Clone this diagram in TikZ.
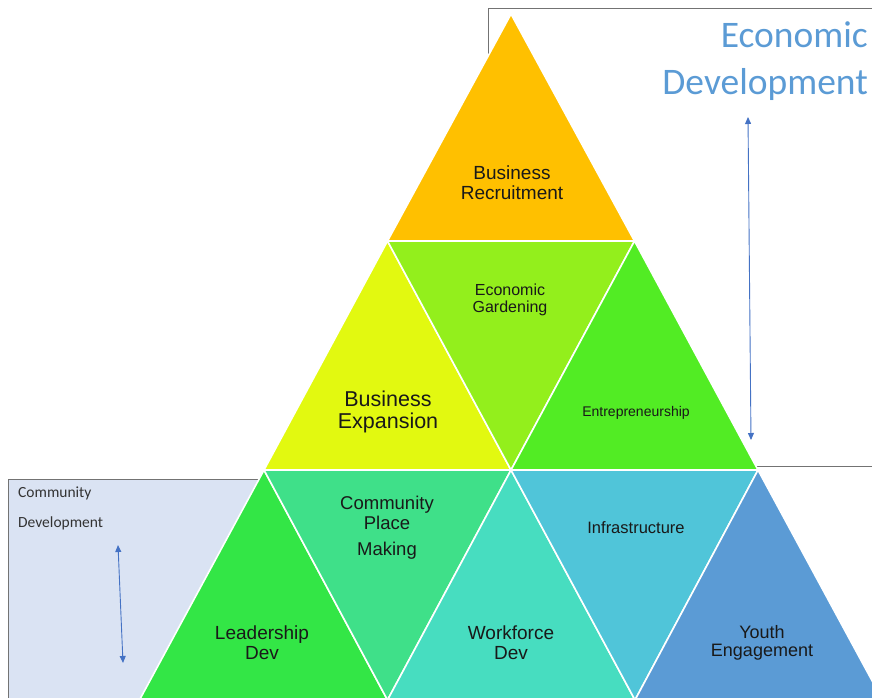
\documentclass[tikz,border=0pt]{standalone}
\usepackage{fontspec}
\setmainfont{Liberation Sans}
\newfontfamily\calibri{Carlito}
\usepackage{tikz}
\usetikzlibrary{arrows.meta}

\definecolor{recruitcol}{HTML}{FFC000}
\definecolor{expandcol}{HTML}{E2F910}
\definecolor{gardencol}{HTML}{93EF1C}
\definecolor{entrecol}{HTML}{52EC24}
\definecolor{leadcol}{HTML}{33E646}
\definecolor{placecol}{HTML}{3FE089}
\definecolor{workcol}{HTML}{47DDC0}
\definecolor{infracol}{HTML}{50C5D9}
\definecolor{youthcol}{HTML}{5B9BD5}
\definecolor{cdfill}{HTML}{DAE3F3}
\definecolor{edblue}{HTML}{5B9BD5}
\definecolor{arrowblue}{HTML}{4472C4}

\begin{document}
\begin{tikzpicture}[x=1pt,y=-1pt,
		tri/.style={draw=white,line width=1.6pt,line join=round},
		lbl/.style={align=center,text=black!90,inner sep=0pt},
		frame/.style={draw=black!55,line width=0.9pt},
		span/.style={draw=arrowblue,line width=0.9pt,
			{Triangle[length=7pt,width=6pt]}-{Triangle[length=7pt,width=6pt]}},
		sidelbl/.style={anchor=base west,inner sep=0pt,text=black!80,
			font=\calibri\fontsize{15.5}{16}\selectfont},
		toplbl/.style={anchor=base east,inner sep=0pt,text=edblue,
			font=\calibri\fontsize{37.5}{40}\selectfont}]
		\clip (0,0) rectangle (872,698);
		% frames behind the pyramid
		\draw[frame] (488,8) rectangle (900,466);
		\draw[frame,fill=cdfill] (8,479) rectangle (300,720);
		% lattice points
		\coordinate (a0) at (511,14);
		\coordinate (b0) at (387.5,241);
		\coordinate (b1) at (634.5,241);
		\coordinate (c0) at (264,470);
		\coordinate (c1) at (511,470);
		\coordinate (c2) at (758,470);
		\coordinate (d0) at (139.5,700);
		\coordinate (d1) at (387.5,700);
		\coordinate (d2) at (635,700);
		\coordinate (d3) at (882.5,700);
		% triangles
		\filldraw[tri,fill=recruitcol] (a0) -- (b0) -- (b1) -- cycle;
		\filldraw[tri,fill=expandcol] (b0) -- (c0) -- (c1) -- cycle;
		\filldraw[tri,fill=gardencol] (b0) -- (b1) -- (c1) -- cycle;
		\filldraw[tri,fill=entrecol] (b1) -- (c1) -- (c2) -- cycle;
		\filldraw[tri,fill=leadcol] (c0) -- (d0) -- (d1) -- cycle;
		\filldraw[tri,fill=placecol] (c0) -- (c1) -- (d1) -- cycle;
		\filldraw[tri,fill=workcol] (c1) -- (d1) -- (d2) -- cycle;
		\filldraw[tri,fill=infracol] (c1) -- (c2) -- (d2) -- cycle;
		\filldraw[tri,fill=youthcol] (c2) -- (d2) -- (d3) -- cycle;
		% labels
		\node[lbl,font=\fontsize{19}{20}\selectfont] (recruit) at (512,183) {Business\\Recruitment};
		\node[lbl,font=\fontsize{16}{17}\selectfont] (garden) at (510,300) {Economic\\Gardening};
		\node[lbl,font=\fontsize{21.5}{22}\selectfont] (expand) at (388,412) {Business\\Expansion};
		\node[lbl,font=\fontsize{14}{16}\selectfont] (entre) at (636,413) {Entrepreneurship};
		\node[lbl,font=\fontsize{18.5}{20}\selectfont] (place) at (387,528) {Community\\Place\\[6pt]Making};
		\node[lbl,font=\fontsize{16.5}{18}\selectfont] (infra) at (636,528) {Infrastructure};
		\node[lbl,font=\fontsize{19}{20}\selectfont] (lead) at (262,643) {Leadership\\Dev};
		\node[lbl,font=\fontsize{19}{20}\selectfont] (work) at (511,643) {Workforce\\Dev};
		\node[lbl,font=\fontsize{18}{18.5}\selectfont] (youth) at (762,643) {Youth\\Engagement};
		% side texts
		\node[toplbl] (econ) at (868,48) {Economic};
		\node[toplbl] (econdev) at (868,95) {Development};
		\node[sidelbl] (comm) at (18,497) {Community};
		\node[sidelbl] (commdev) at (18,527) {Development};
		% span arrows
		\coordinate (edtop) at (748,117);
		\coordinate (edbot) at (751,440);
		\coordinate (cdtop) at (118,545);
		\coordinate (cdbot) at (123,663);
		\draw[span] (edtop) -- (edbot);
		\draw[span] (cdtop) -- (cdbot);
\end{tikzpicture}
\end{document}
